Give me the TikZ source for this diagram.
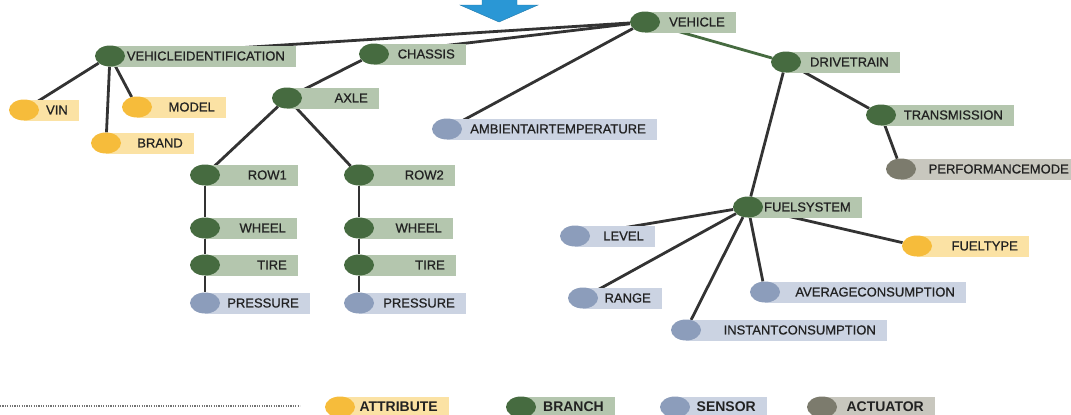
\documentclass[tikz,border=0pt]{standalone}
\usepackage{fontspec}
\setmainfont{Liberation Sans}
\newfontfamily\lblfont[FakeBold=0.7]{Liberation Sans}
\usepackage{tikz}
\usetikzlibrary{positioning, arrows.meta, shapes.geometric, backgrounds}

\definecolor{attrdot}{HTML}{F6BC3B}
\definecolor{attrbg}{HTML}{FBE2A4}
\definecolor{branchdot}{HTML}{466B40}
\definecolor{branchbg}{HTML}{B4C6AE}
\definecolor{sensordot}{HTML}{8C9DBB}
\definecolor{sensorbg}{HTML}{CBD3E2}
\definecolor{actdot}{HTML}{7C7B6D}
\definecolor{actbg}{HTML}{C8C7BE}
\definecolor{arrowblue}{HTML}{2A97D5}
\definecolor{lbltext}{HTML}{222222}
\definecolor{edgegray}{HTML}{333333}

\tikzset{
    dotbase/.style={ellipse, minimum width=30pt, minimum height=21pt, inner sep=0pt},
    boxbase/.style={rectangle, anchor=west, minimum height=21pt, inner sep=0pt},
    attribute dot/.style={dotbase, fill=attrdot},
    attribute box/.style={boxbase, fill=attrbg},
    branch dot/.style={dotbase, fill=branchdot},
    branch box/.style={boxbase, fill=branchbg},
    sensor dot/.style={dotbase, fill=sensordot},
    sensor box/.style={boxbase, fill=sensorbg},
    actuator dot/.style={dotbase, fill=actdot},
    actuator box/.style={boxbase, fill=actbg},
    lbl/.style={anchor=east, inner sep=0pt, text=lbltext, font=\lblfont\fontsize{13}{13}\selectfont},
    leglbl/.style={anchor=east, inner sep=0pt, text=lbltext, font=\bfseries\fontsize{14}{14}\selectfont},
    edge/.style={draw=edgegray, line width=2.8pt}
}

\begin{document}
\begin{tikzpicture}[x=1pt, y=-1pt]
        \useasboundingbox (0,0) rectangle (1071,415);
        \clip (0,0) rectangle (1071,415);

        % arrow coming in from above
        \fill[arrowblue, draw=arrowblue!80!black, line width=0.4pt]
            (482,-1) -- (517,-1) -- (517,5) -- (538,5) -- (499,22) -- (460,5) -- (482,5) -- cycle;

        % signal tree
        \foreach \name/\kind/\cx/\cy/\bx/\label in {
                vehicle/branch/645/22/736/VEHICLE,
                vehid/branch/110/56/296/VEHICLEIDENTIFICATION,
                chassis/branch/374/54/466/CHASSIS,
                axle/branch/287/98/379/AXLE,
                vin/attribute/24/110/79/VIN,
                model/attribute/137/107/226/MODEL,
                brand/attribute/106/143/194/BRAND,
                ambient/sensor/447/129/657/AMBIENTAIRTEMPERATURE,
                row1/branch/205/175/298/ROW1,
                wheel1/branch/205/228/297/WHEEL,
                tire1/branch/205/265/298/TIRE,
                press1/sensor/205/303/310/PRESSURE,
                row2/branch/359/175/455/ROW2,
                wheel2/branch/359/228/453/WHEEL,
                tire2/branch/359/265/456/TIRE,
                press2/sensor/359/303/466/PRESSURE,
                drivetrain/branch/786/62/900/DRIVETRAIN,
                transmission/branch/881/115/1014/TRANSMISSION,
                perfmode/actuator/901/169/1080/PERFORMANCEMODE,
                fuelsys/branch/748/207/862/FUELSYSTEM,
                level/sensor/575/236/655/LEVEL,
                fueltype/attribute/917/246/1029/FUELTYPE,
                range/sensor/583/298/662/RANGE,
                avgcons/sensor/765/292/966/AVERAGECONSUMPTION,
                instcons/sensor/686/330/887/INSTANTCONSUMPTION}{
                \pgfmathsetmacro\bw{\bx-\cx}
                \node[\kind\space box, minimum width=\bw pt] (\name-box) at (\cx,\cy) {};
                \node[\kind\space dot] (\name) at (\cx,\cy) {};
                \node[lbl] (\name-text) at (\bx-11,\cy) {\label};
            }

        \begin{pgfonlayer}{background}
            \foreach \a/\b in {
                    vehicle/vehid, vehicle/chassis, vehicle/ambient,
                    vehid/vin, vehid/brand, vehid/model,
                    chassis/axle, axle/row1, axle/row2,
                    row1/wheel1, wheel1/tire1, tire1/press1,
                    row2/wheel2, wheel2/tire2, tire2/press2,
                    drivetrain/transmission, drivetrain/fuelsys, transmission/perfmode,
                    fuelsys/level, fuelsys/range, fuelsys/instcons,
                    fuelsys/avgcons, fuelsys/fueltype}{
                    \draw[edge] (\a) -- (\b);
                }
            \draw[edge, draw=branchdot] (vehicle) -- (drivetrain);
        \end{pgfonlayer}

        % legend
        \draw[black!55, line width=1.3pt, dash pattern=on 1.2pt off 1.2pt] (0,406) -- (300,406);
        \foreach \name/\kind/\cx/\bx/\label in {
                legattr/attribute/340/449/ATTRIBUTE,
                legbranch/branch/521/615/BRANCH,
                legsensor/sensor/675/767/SENSOR,
                legact/actuator/822/935/ACTUATOR}{
                \pgfmathsetmacro\bw{\bx-\cx}
                \node[\kind\space box, minimum width=\bw pt] (\name-box) at (\cx,407) {};
                \node[\kind\space dot] (\name) at (\cx,407) {};
                \node[leglbl] (\name-text) at (\bx-11,407) {\label};
            }

    \end{tikzpicture}
\end{document}
